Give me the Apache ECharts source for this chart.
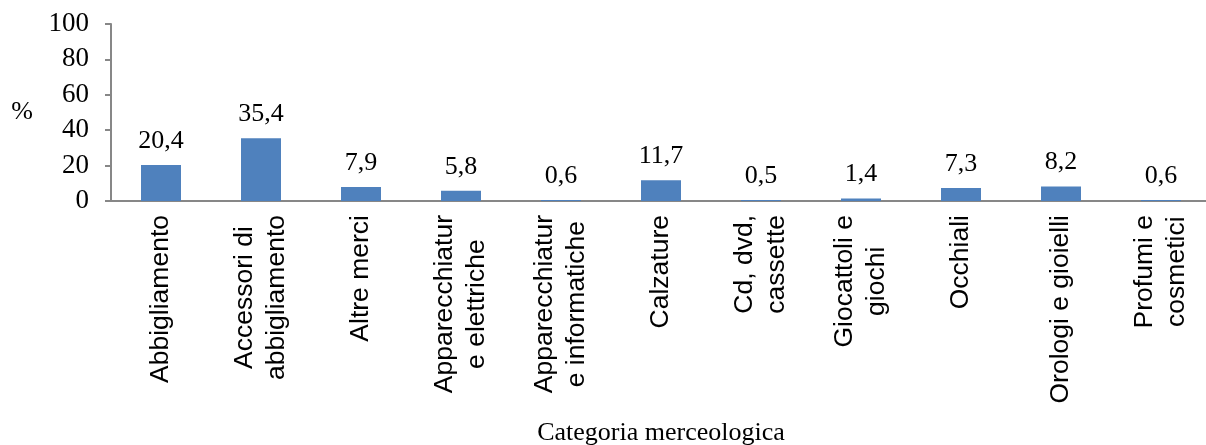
<!DOCTYPE html>
<html>
<head>
<meta charset="utf-8">
<script src="https://cdn.jsdelivr.net/npm/echarts@6/dist/echarts.min.js"></script>
<style>
  html, body { margin: 0; padding: 0; background: #fff; }
  #main { width: 1206px; height: 445px; }
</style>
</head>
<body>
<div id="main"></div>
<script>
var categories = [
    'Abbigliamento',
    'Accessori di\nabbigliamento',
    'Altre merci',
    'Apparecchiatur\ne elettriche',
    'Apparecchiatur\ne informatiche',
    'Calzature',
    'Cd, dvd,\ncassette',
    'Giocattoli e\ngiochi',
    'Occhiali',
    'Orologi e gioielli',
    'Profumi e\ncosmetici'
];
var values = [20.4, 35.4, 7.9, 5.8, 0.6, 11.7, 0.5, 1.4, 7.3, 8.2, 0.6];
var yTicks = [0, 20, 40, 60, 80, 100];

var serif = '"Liberation Serif", "Times New Roman", serif';
var sans = '"Liberation Sans", Arial, sans-serif';
var axisGray = '#878787';

var chart = echarts.init(document.getElementById('main'));

var option = {
    animation: false,
    grid: { left: 111, top: 24, bottom: 244, width: 1100, outerBoundsMode: 'none', containLabel: false },
    xAxis: {
        type: 'category',
        data: categories,
        name: 'Categoria merceologica',
        nameLocation: 'middle',
        nameGap: 219,
        nameTextStyle: { fontFamily: serif, fontSize: 26, color: '#000' },
        axisLine: { lineStyle: { color: axisGray, width: 2 } },
        axisTick: { show: false },
        axisLabel: {
            rotate: 90,
            interval: 0,
            margin: 14,
            fontFamily: sans,
            fontSize: 26.5,
            lineHeight: 32,
            color: '#000',
            // lines centred on each other, block anchored at the axis
            formatter: function (v) {
                return v.split('\n').map(function (s) { return '{c|' + s + '}'; }).join('\n');
            },
            rich: {
                c: { align: 'center', fontFamily: sans, fontSize: 26.5, lineHeight: 32, color: '#000' }
            }
        }
    },
    yAxis: {
        type: 'value',
        min: yTicks[0],
        max: yTicks[yTicks.length - 1],
        interval: 20,
        name: '%',
        nameLocation: 'middle',
        nameRotate: 0,
        nameGap: 78,
        nameTextStyle: { fontFamily: serif, fontSize: 26, color: '#000', padding: [10, 0, 0, 0] },
        splitLine: { show: false },
        axisLine: { show: true, lineStyle: { color: axisGray, width: 2 } },
        axisTick: { show: true, length: 6, lineStyle: { color: axisGray, width: 2 } },
        axisLabel: {
            margin: 22,
            fontFamily: serif,
            fontSize: 27,
            color: '#000'
        }
    },
    series: [{
        type: 'bar',
        data: values,
        barWidth: 40,
        itemStyle: { color: '#4F81BD' },
        label: {
            show: true,
            position: 'top',
            distance: 11,
            fontFamily: serif,
            fontSize: 26,
            color: '#000',
            formatter: function (p) {
                return String(p.value).replace('.', ',');
            }
        }
    }]
};

chart.setOption(option);
</script>
</body>
</html>
